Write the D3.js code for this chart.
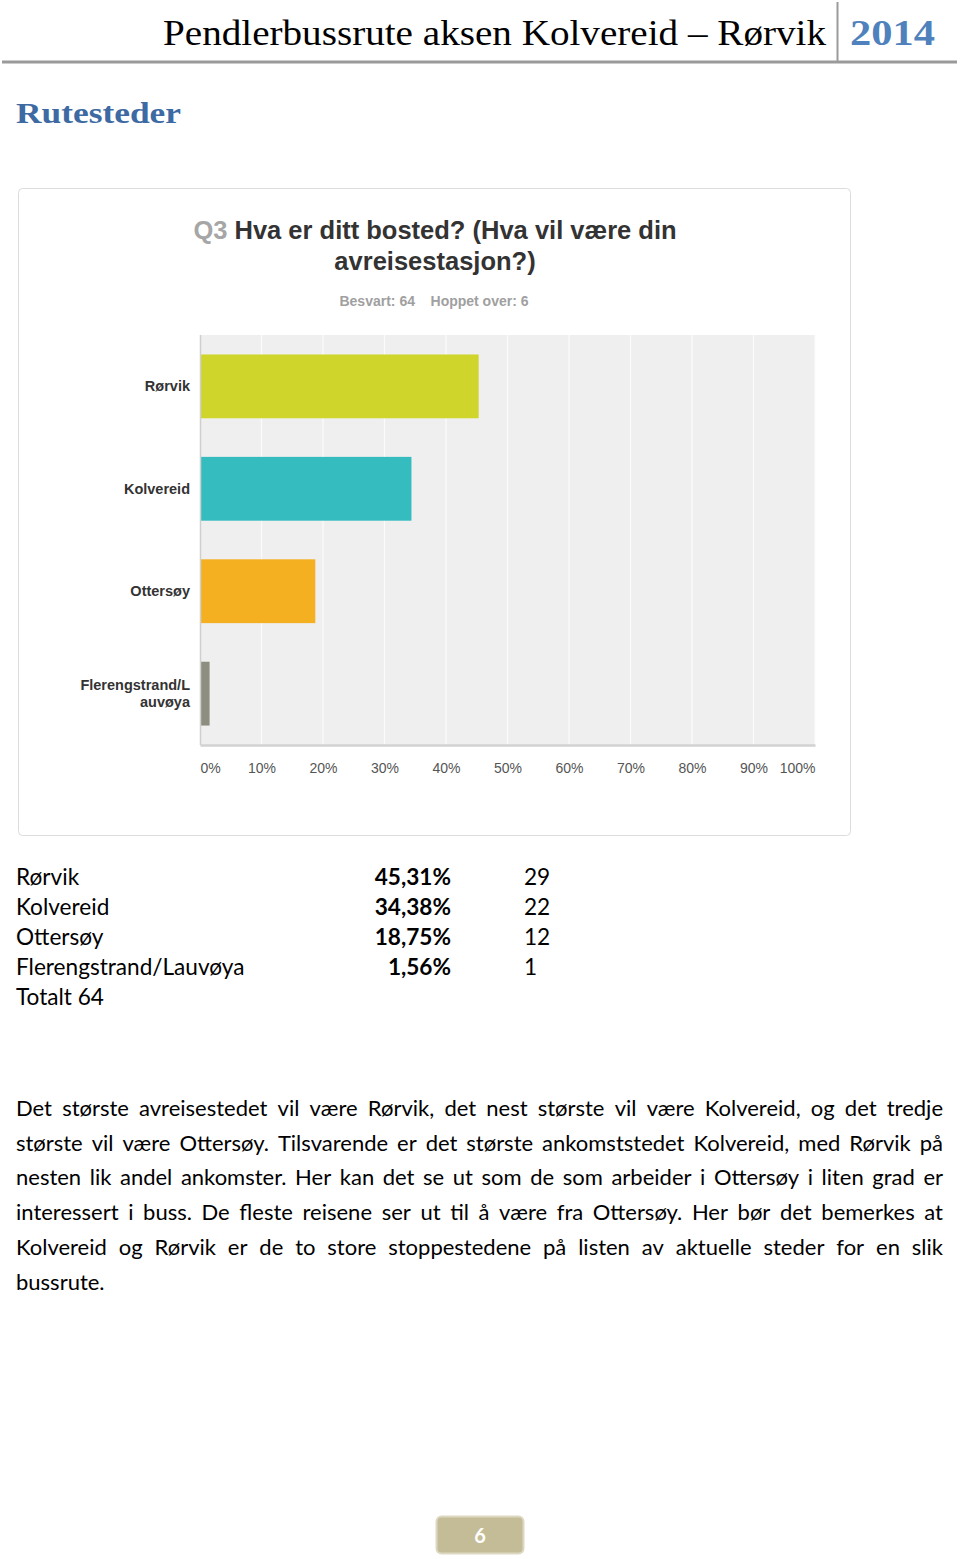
<!DOCTYPE html>
<html>
<head>
<meta charset="utf-8">
<script src="https://cdn.jsdelivr.net/npm/d3@7"></script>
<style>
  body { margin: 0; background: #fff; }
  svg { display: block; }
</style>
</head>
<body>
<div id="page"></div>
<script>
'use strict';

// chart data
const categories = ['Rørvik', 'Kolvereid', 'Ottersøy', 'Flerengstrand/Lauvøya'];
const axisLabels = [['Rørvik'], ['Kolvereid'], ['Ottersøy'], ['Flerengstrand/L', 'auvøya']];
const percents = [45.31, 34.38, 18.75, 1.56];
const counts = [29, 22, 12, 1];
const percentText = ['45,31%', '34,38%', '18,75%', '1,56%'];
const barColors = ['#cfd52b', '#35bcbe', '#f5b021', '#8d8d80'];
const tickValues = [0, 10, 20, 30, 40, 50, 60, 70, 80, 90, 100];
const total = 64;
const skipped = 6;

const paragraphLines = [
  'Det største avreisestedet vil være Rørvik, det nest største vil være Kolvereid, og det tredje',
  'største vil være Ottersøy. Tilsvarende er det største ankomststedet Kolvereid, med Rørvik på',
  'nesten lik andel ankomster. Her kan det se ut som de som arbeider i Ottersøy i liten grad er',
  'interessert i buss. De fleste reisene ser ut til å være fra Ottersøy. Her bør det bemerkes at',
  'Kolvereid og Rørvik er de to store stoppestedene på listen av aktuelle steder for en slik',
  'bussrute.'
];

const W = 960, H = 1559;
const svg = d3.select('#page').append('svg')
    .attr('width', W)
    .attr('height', H);

// page header
svg.append('text')
    .attr('x', 163).attr('y', 45)
    .attr('textLength', 663).attr('lengthAdjust', 'spacingAndGlyphs')
    .style('font-family', '"Liberation Serif", serif')
    .style('font-size', '35px')
    .attr('fill', '#000')
    .text('Pendlerbussrute aksen Kolvereid – Rørvik');

svg.append('line')
    .attr('x1', 837.5).attr('x2', 837.5).attr('y1', 2).attr('y2', 61)
    .attr('stroke', '#9a9a9a').attr('stroke-width', 2);

svg.append('text')
    .attr('x', 850).attr('y', 45)
    .attr('textLength', 85).attr('lengthAdjust', 'spacingAndGlyphs')
    .style('font-family', '"Liberation Serif", serif')
    .style('font-size', '35px').style('font-weight', 'bold')
    .attr('fill', '#4f81bd')
    .text('2014');

svg.append('line')
    .attr('x1', 2).attr('x2', 957).attr('y1', 62).attr('y2', 62)
    .attr('stroke', '#9a9a9a').attr('stroke-width', 3);

svg.append('text')
    .attr('x', 16).attr('y', 123)
    .attr('textLength', 165).attr('lengthAdjust', 'spacingAndGlyphs')
    .style('font-family', '"Liberation Serif", serif')
    .style('font-size', '30px').style('font-weight', 'bold')
    .attr('fill', '#3d6aa3')
    .text('Rutesteder');

// chart panel
svg.append('rect')
    .attr('x', 18.5).attr('y', 188.5)
    .attr('width', 832).attr('height', 647)
    .attr('rx', 4)
    .attr('fill', '#fff')
    .attr('stroke', '#dcdcdc');

const title = svg.append('text')
    .attr('text-anchor', 'middle')
    .style('font-family', '"Liberation Sans", Arial, sans-serif')
    .style('font-size', '25.5px').style('font-weight', 'bold')
    .attr('fill', '#333');
const t1 = title.append('tspan').attr('x', 435).attr('y', 239);
t1.append('tspan').attr('fill', '#a6a6a6').text('Q3 ');
t1.append('tspan').text('Hva er ditt bosted? (Hva vil være din');
title.append('tspan').attr('x', 435).attr('y', 270).text('avreisestasjon?)');

svg.append('text')
    .attr('x', 434).attr('y', 306)
    .attr('text-anchor', 'middle')
    .attr('xml:space', 'preserve')
    .style('font-family', '"Liberation Sans", Arial, sans-serif')
    .style('font-size', '14px').style('font-weight', 'bold')
    .attr('fill', '#a0a0a0')
    .text(`Besvart: ${total}    Hoppet over: ${skipped}`);

// plot area
const plot = { left: 200, right: 815, top: 335, bottom: 745 };

const x = d3.scaleLinear()
    .domain([0, 100])
    .range([plot.left, plot.right]);

const y = d3.scaleBand()
    .domain(categories)
    .range([plot.top, plot.bottom])
    .paddingInner(0.377)
    .paddingOuter(0.19);

svg.append('rect')
    .attr('x', plot.left).attr('y', plot.top)
    .attr('width', plot.right - plot.left)
    .attr('height', plot.bottom - plot.top)
    .attr('fill', '#efefef');

svg.append('g')
  .selectAll('line')
  .data(tickValues.slice(1))
  .join('line')
    .attr('x1', d => x(d)).attr('x2', d => x(d))
    .attr('y1', plot.top).attr('y2', plot.bottom)
    .attr('stroke', '#fbfbfb')
    .attr('stroke-width', 1.2);

svg.append('g')
  .selectAll('rect')
  .data(categories)
  .join('rect')
    .attr('x', x(0) + 1)
    .attr('y', d => y(d))
    .attr('width', (d, i) => x(percents[i]) - x(0) - 1)
    .attr('height', y.bandwidth())
    .attr('fill', (d, i) => barColors[i]);

// axis lines
svg.append('line')
    .attr('x1', plot.left + 0.5).attr('x2', plot.left + 0.5)
    .attr('y1', plot.top).attr('y2', plot.bottom)
    .attr('stroke', '#cfcfcf').attr('stroke-width', 1.5);

const xAxis = svg.append('g')
    .attr('transform', `translate(0, ${plot.bottom})`)
    .call(d3.axisBottom(x).tickValues(tickValues).tickFormat(d => d + '%').tickSize(0).tickPadding(18));

xAxis.select('.domain')
    .attr('stroke', '#d2d2d2')
    .attr('stroke-width', 2.5);

xAxis.selectAll('text')
    .style('font-family', '"Liberation Sans", Arial, sans-serif')
    .style('font-size', '14px')
    .attr('fill', '#555')
    .attr('text-anchor', (d, i) => i === 0 ? 'start' : (i === tickValues.length - 1 ? 'end' : 'middle'));

// category labels
const catLabels = svg.append('g')
  .selectAll('text')
  .data(categories)
  .join('text')
    .attr('text-anchor', 'end')
    .style('font-family', '"Liberation Sans", Arial, sans-serif')
    .style('font-size', '14.5px').style('font-weight', 'bold')
    .attr('fill', '#333');

catLabels.each(function(d, i) {
  const lines = axisLabels[i];
  const cy = y(d) + y.bandwidth() / 2;
  const lh = 17;
  lines.forEach((ln, j) => {
    d3.select(this).append('tspan')
        .attr('x', 190)
        .attr('y', cy + 5 + (j - (lines.length - 1) / 2) * lh)
        .text(ln);
  });
});

// result table
const tableFont = 'Lato, "Open Sans", sans-serif';
const rowY = d3.scalePoint()
    .domain(d3.range(categories.length + 1))
    .range([885, 1005]);

const rows = svg.append('g')
  .selectAll('g')
  .data(categories)
  .join('g')
    .style('font-family', tableFont)
    .style('font-size', '22.6px')
    .attr('fill', '#000');

rows.append('text')
    .attr('x', 16).attr('y', (d, i) => rowY(i))
    .text(d => d);
rows.append('text')
    .attr('x', 451).attr('y', (d, i) => rowY(i))
    .attr('text-anchor', 'end')
    .style('font-weight', 'bold')
    .text((d, i) => percentText[i]);
rows.append('text')
    .attr('x', 524).attr('y', (d, i) => rowY(i))
    .text((d, i) => counts[i]);

svg.append('text')
    .attr('x', 16).attr('y', rowY(categories.length))
    .style('font-family', tableFont)
    .style('font-size', '22.6px')
    .attr('fill', '#000')
    .text(`Totalt ${total}`);

// justified paragraph
const para = svg.append('g')
    .style('font-family', tableFont)
    .style('font-size', '22px')
    .attr('fill', '#000');

const paraLeft = 16, paraRight = 943, paraTop = 1116, paraLH = 34.7;
paragraphLines.forEach((line, li) => {
  const words = line.split(' ');
  const yy = paraTop + li * paraLH;
  const nodes = words.map(w => para.append('text').attr('y', yy).text(w));
  const widths = nodes.map(n => n.node().getComputedTextLength());
  const last = li === paragraphLines.length - 1;
  const spaceW = 5.5;
  const gap = last ? spaceW : (paraRight - paraLeft - d3.sum(widths)) / (words.length - 1);
  let cx = paraLeft;
  nodes.forEach((n, k) => {
    n.attr('x', cx);
    cx += widths[k] + gap;
  });
});

// page number
svg.append('rect')
    .attr('x', 436.5).attr('y', 1516.5)
    .attr('width', 87).attr('height', 37)
    .attr('rx', 5)
    .attr('fill', '#c4bc96')
    .attr('stroke', '#ddd8c2')
    .attr('stroke-width', 2);

svg.append('text')
    .attr('x', 480).attr('y', 1543)
    .attr('text-anchor', 'middle')
    .style('font-family', tableFont)
    .style('font-size', '20px').style('font-weight', 'bold')
    .attr('fill', '#fff')
    .text('6');
</script>
</body>
</html>
